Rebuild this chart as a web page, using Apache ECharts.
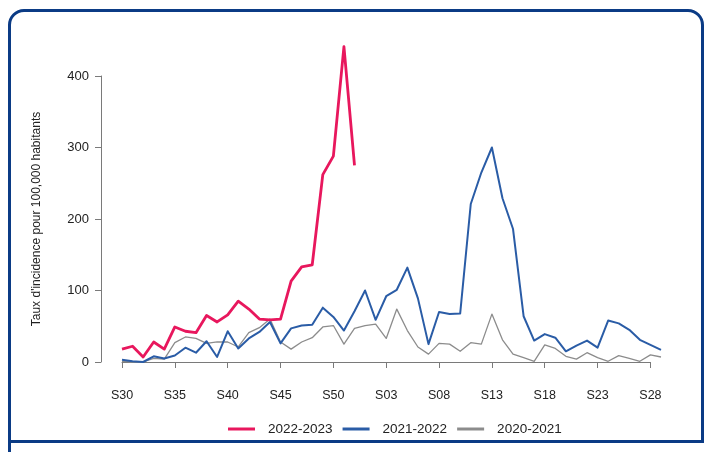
<!DOCTYPE html>
<html>
<head>
<meta charset="utf-8">
<script src="https://cdn.jsdelivr.net/npm/echarts@6/dist/echarts.min.js"></script>
<style>
  html, body { margin: 0; padding: 0; background: #fff; }
  #wrap { position: relative; width: 704px; height: 452px; overflow: hidden; }
  #frame { position: absolute; left: 8px; top: 9px; width: 690px; height: 428px;
           border: 3px solid #0b3b85; border-radius: 16px 16px 0 0; box-sizing: content-box; }
  #below { position: absolute; left: 8px; top: 440px; width: 10px; height: 20px;
           border-left: 3px solid #0b3b85; }
  #chart { position: absolute; left: 0; top: 0; width: 704px; height: 452px; }
</style>
</head>
<body>
<div id="wrap">
  <div id="frame"></div>
  <div id="below"></div>
  <div id="chart"></div>
</div>
<script>
// Weeks S30 .. S52, then S01 .. S29
const weeks = [];
for (let w = 30; w <= 52; w++) weeks.push('S' + w);
for (let w = 1; w <= 29; w++) weeks.push('S' + String(w).padStart(2, '0'));

const seasonNames = ['2022-2023', '2021-2022', '2020-2021'];

// Incidence rate per 100,000 inhabitants
const rate2022_2023 = [18, 22, 7, 28, 18, 49, 43, 41, 65, 56, 66, 85, 74, 60, 59, 60,
  113, 133, 136, 262, 288, 441, 275];

const rate2021_2022 = [3, 1, 0, 8, 5, 9, 20, 13, 29, 7, 43, 19, 33, 42, 56, 26, 47, 51,
  52, 76, 63, 44, 71,
  100, 59, 92, 101, 132, 89, 25, 70, 67, 68, 221, 265, 300, 229, 186, 64, 30, 39, 34,
  15, 23, 30, 20, 58, 54, 45, 31, 24, 17];

const rate2020_2021 = [1, 0, 0, 5, 4, 27, 35, 33, 26, 28, 28, 21, 41, 48, 60, 28, 18,
  28, 34, 49, 51, 25, 47,
  51, 53, 33, 74, 44, 21, 11, 26, 25, 15, 27, 25, 67, 31, 11, 6, 1, 24, 19, 8, 4, 13,
  6, 1, 9, 5, 1, 10, 7];

const yTicks = [0, 100, 200, 300, 400];

const colors = ['#e8175d', '#2a5ca6', '#8c8c8c'];
const widths = [2.8, 2, 1.3];

// plot area: one step per week
const plotLeft = 122, plotRight = 43, plotTop = 76, plotBottom = 90;
const step = (704 - plotLeft - plotRight) / (weeks.length - 1);

const chart = echarts.init(document.getElementById('chart'), null, { renderer: 'canvas' });
const font = 'Liberation Sans, Arial, sans-serif';

const seriesData = [rate2022_2023, rate2021_2022, rate2020_2021];

chart.setOption({
  animation: false,
  textStyle: { fontFamily: font },
  grid: [
    { left: plotLeft, right: plotRight, top: plotTop, bottom: plotBottom },
    // labelled axis runs from the first week to the last labelled one (S28)
    { left: plotLeft, right: plotRight + step, top: plotTop, bottom: plotBottom }
  ],
  xAxis: [
    { type: 'category', gridIndex: 0, data: weeks, boundaryGap: false, show: false },
    {
      type: 'category', gridIndex: 1, data: weeks.slice(0, weeks.length - 1),
      boundaryGap: false, position: 'bottom', offset: 15,
      axisLine: { show: true, lineStyle: { color: '#7a7a7a', width: 1 } },
      axisTick: { show: true, interval: 4, length: 6, lineStyle: { color: '#7a7a7a' } },
      axisLabel: { interval: 4, color: '#222', fontSize: 12.5, margin: 12, fontFamily: font },
      splitLine: { show: false }
    }
  ],
  yAxis: [
    {
      type: 'value', gridIndex: 0, min: 0, max: 400, interval: 100, offset: 21,
      name: 'Taux d\'incidence pour 100,000 habitants',
      nameLocation: 'middle', nameGap: 58, nameRotate: 90,
      nameTextStyle: { color: '#222', fontSize: 12, fontFamily: font },
      axisLine: { show: true, lineStyle: { color: '#7a7a7a', width: 1 } },
      axisTick: { show: true, length: 6, lineStyle: { color: '#7a7a7a' } },
      axisLabel: {
        color: '#222', fontSize: 13, margin: 12, fontFamily: font,
        formatter: v => (yTicks.includes(v) ? String(v) : '')
      },
      splitLine: { show: false }
    },
    { type: 'value', gridIndex: 1, min: 0, max: 400, show: false }
  ],
  legend: {
    top: 417, left: 223,
    itemWidth: 27, itemHeight: 3, itemGap: 10,
    icon: 'rect',
    textStyle: { color: '#222', fontSize: 13.5, fontFamily: font, padding: [0, 0, 0, 8] },
    data: seasonNames
  },
  series: seasonNames.map((name, i) => ({
    name,
    type: 'line',
    xAxisIndex: 0, yAxisIndex: 0,
    data: seriesData[i],
    showSymbol: false,
    symbol: 'none',
    clip: false,
    z: 10 - i,
    lineStyle: { color: colors[i], width: widths[i], join: 'round' },
    itemStyle: { color: colors[i] }
  })).reverse()
});
</script>
</body>
</html>
